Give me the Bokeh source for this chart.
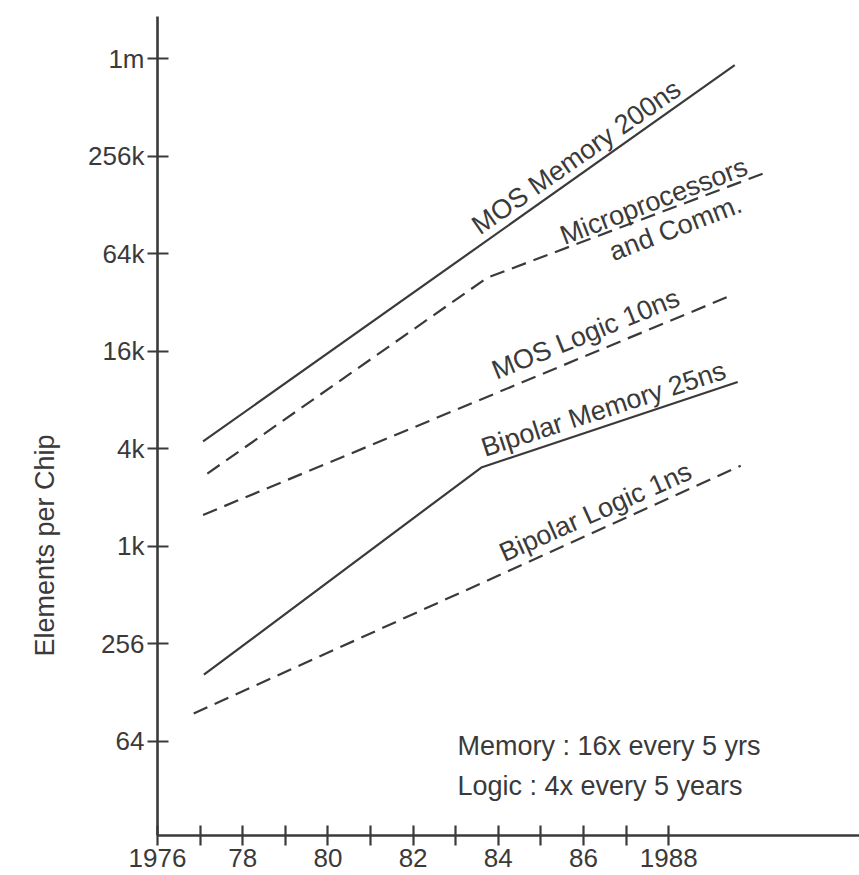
from bokeh.plotting import figure
from bokeh.models import Range1d, FixedTicker, ColumnDataSource, Title
from bokeh.core.properties import value
from bokeh.embed import file_html
from bokeh.resources import INLINE

# ---- data ----
mos_mem_years = [1977.07, 1989.55]
mos_mem_vals = [4550, 960000]

micro_years = [1977.17, 1983.74, 1990.35]
micro_vals = [2880, 46700, 212000]

mos_logic_years = [1977.07, 1989.53]
mos_logic_vals = [1600, 36900]

bip_mem_years = [1977.09, 1983.60, 1989.62]
bip_mem_vals = [165, 3140, 10600]

bip_logic_years = [1976.85, 1989.69]
bip_logic_vals = [95, 3220]

y_ticks = [64, 256, 1024, 4096, 16384, 65536, 262144, 1048576]
y_tick_labels = ["64", "256", "1k", "4k", "16k", "64k", "256k", "1m"]

x_ticks = [1976, 1977, 1978, 1979, 1980, 1981, 1982, 1983, 1984, 1985, 1986, 1987, 1988]
x_tick_labels = ["1976", "", "78", "", "80", "", "82", "", "84", "", "86", "", "1988"]

series_labels = ["MOS Memory 200ns", "Microprocessors", "and Comm.",
                 "MOS Logic 10ns", "Bipolar Memory 25ns", "Bipolar Logic 1ns"]
label_years = [1985.83, 1987.65, 1988.16, 1986.05, 1986.47, 1986.28]
label_vals = [260000, 139000, 95000, 21000, 7230, 1670]
label_angles = [35, 21, 21, 22, 18, 24]

notes = ["Memory : 16x every 5 yrs", "Logic : 4x every 5 years"]
note_years = [1983.04, 1983.04]
note_vals = [59.4, 34.1]

y_title = "Elements per Chip"

# ---- style ----
INK = "#3a3a3a"
FONT = "Liberation Sans"
DASH = "15 8"

p = figure(width=859, height=875,
           x_range=Range1d(1976.0, 1992.479),
           y_range=Range1d(4 ** 2.033, 4 ** 10.436),
           y_axis_type="log",
           output_backend="svg", toolbar_location=None,
           min_border_left=157, min_border_top=16,
           min_border_right=0, min_border_bottom=40)

p.outline_line_color = None
p.xgrid.visible = False
p.ygrid.visible = False
p.background_fill_color = "white"
p.border_fill_color = "white"

# axes
p.yaxis.ticker = FixedTicker(ticks=y_ticks, minor_ticks=[])
p.yaxis.major_label_overrides = {t: l for t, l in zip(y_ticks, y_tick_labels)}
p.xaxis.ticker = FixedTicker(ticks=x_ticks, minor_ticks=[])
p.xaxis.major_label_overrides = {t: l for t, l in zip(x_ticks, x_tick_labels)}

for ax in (p.xaxis[0], p.yaxis[0]):
    ax.axis_line_color = INK
    ax.axis_line_width = 2.6
    ax.major_tick_line_color = INK
    ax.major_tick_line_width = 2.2
    ax.major_tick_in = 10
    ax.major_tick_out = 10
    ax.minor_tick_line_color = None
    ax.major_label_text_font = FONT
    ax.major_label_text_font_size = "26px"
    ax.major_label_text_color = INK

p.yaxis.major_tick_in = 11
p.yaxis.major_label_standoff = 3
p.xaxis.major_label_standoff = 3

# y title as a side title so it can sit at the 1k level like the reference
p.add_layout(Title(text=y_title, align="left", offset=179, vertical_align="middle",
                   standoff=50, text_font=FONT, text_font_size="27px",
                   text_font_style="normal", text_color=INK), "left")

# lines
p.line(mos_mem_years, mos_mem_vals, line_color=INK, line_width=2.2)
p.line(micro_years, micro_vals, line_color=INK, line_width=2.2, line_dash=DASH)
p.line(mos_logic_years, mos_logic_vals, line_color=INK, line_width=2.2, line_dash=DASH)
p.line(bip_mem_years, bip_mem_vals, line_color=INK, line_width=2.2)
p.line(bip_logic_years, bip_logic_vals, line_color=INK, line_width=2.2, line_dash=DASH)

# series labels along the lines
lab_src = ColumnDataSource(dict(x=label_years, y=label_vals, text=series_labels,
                                angle=label_angles))
p.text(x="x", y="y", text="text", angle="angle", angle_units="deg", source=lab_src,
       text_font=value(FONT), text_font_size=value("27px"), text_color=INK,
       text_align="center", text_baseline="middle")

# notes
p.text(x=note_years, y=note_vals, text=notes,
       text_font=value(FONT), text_font_size=value("27px"), text_color=INK,
       text_align="left", text_baseline="middle")

open("out.html", "w").write(file_html(p, INLINE))
